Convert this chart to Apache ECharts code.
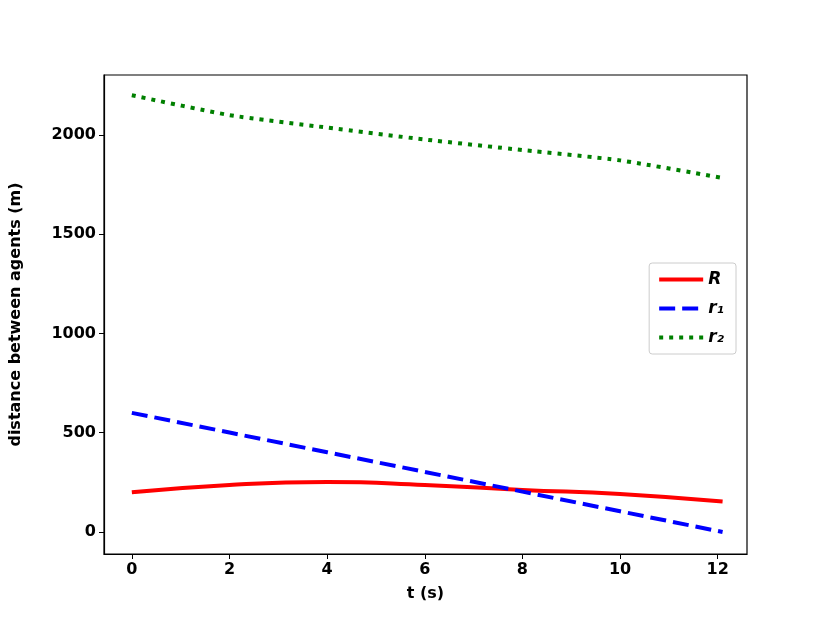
<!DOCTYPE html>
<html>
<head>
<meta charset="utf-8">
<script src="https://cdn.jsdelivr.net/npm/echarts@6/dist/echarts.min.js"></script>
<style>html,body{margin:0;padding:0;background:#fff}#chart{width:830px;height:623px}</style>
</head>
<body>
<div id="chart"></div>
<script>
// values
var tValues = [0, 2, 4, 6, 8, 10, 12.1];
var rBig = [200, 237, 252, 237, 212, 191, 153];
var r1 = [600, 500.8, 401.7, 302.5, 203.3, 104.1, 0];
var r2 = [2200, 2100, 2037, 1977, 1924, 1872, 1783];
var xTicks = [0, 2, 4, 6, 8, 10, 12];
var yTicks = [0, 500, 1000, 1500, 2000];

function pairs(ys) {
    var out = [];
    for (var i = 0; i < tValues.length; i++) out.push([tValues[i], ys[i]]);
    return out;
}

var chart = echarts.init(document.getElementById('chart'));
var font = 'DejaVu Sans';

var option = {
    animation: false,
    grid: { left: 104, right: 83, top: 75, bottom: 69, show: true, borderColor: '#000', borderWidth: 1.2 },
    xAxis: {
        type: 'value', min: -0.57, max: 12.6,
        name: 't (s)', nameLocation: 'middle', nameGap: 32,
        nameTextStyle: { fontFamily: font, fontWeight: 'bold', fontSize: 16, color: '#000' },
        axisLine: { show: true, onZero: false, lineStyle: { color: '#000', width: 1.2 } },
        splitLine: { show: false },
        axisLabel: {
            fontFamily: font, fontWeight: 'bold', fontSize: 16, color: '#000', margin: 8,
            customValues: xTicks, formatter: function (v) { return String(v); }
        },
        axisTick: { show: true, customValues: xTicks, length: 5, lineStyle: { color: '#000' } }
    },
    yAxis: {
        type: 'value', min: -111, max: 2302,
        name: 'distance between agents (m)', nameLocation: 'middle', nameGap: 80,
        nameTextStyle: { fontFamily: font, fontWeight: 'bold', fontSize: 16, color: '#000' },
        axisLine: { show: true, onZero: false, lineStyle: { color: '#000', width: 1.2 } },
        splitLine: { show: false },
        axisLabel: {
            fontFamily: font, fontWeight: 'bold', fontSize: 16, color: '#000', margin: 8,
            customValues: yTicks, formatter: function (v) { return String(v); }
        },
        axisTick: { show: true, customValues: yTicks, length: 5, lineStyle: { color: '#000' } }
    },
    legend: {
        orient: 'vertical', right: 94, top: 263,
        itemWidth: 44, itemHeight: 14, itemGap: 12,
        padding: [8, 12, 8, 8],
        borderColor: '#ccc', borderWidth: 1, borderRadius: 3,
        itemStyle: { opacity: 0 },
        lineStyle: { width: 4 },
        textStyle: { fontFamily: font, fontWeight: 'bold', fontStyle: 'italic', fontSize: 17, color: '#000' },
        data: ['R', 'r\u2081', 'r\u2082']
    },
    series: [
        { name: 'R', type: 'line', smooth: true, symbol: 'none', data: pairs(rBig),
          itemStyle: { color: '#ff0000' }, lineStyle: { color: '#ff0000', width: 4 } },
        { name: 'r\u2081', type: 'line', symbol: 'none', data: pairs(r1),
          itemStyle: { color: '#0000ff' }, lineStyle: { color: '#0000ff', width: 4, type: [16, 7] } },
        { name: 'r\u2082', type: 'line', smooth: 0.2, symbol: 'none', data: pairs(r2),
          itemStyle: { color: '#008000' }, lineStyle: { color: '#008000', width: 4, type: [4, 6] } }
    ]
};

chart.setOption(option);
</script>
</body>
</html>
